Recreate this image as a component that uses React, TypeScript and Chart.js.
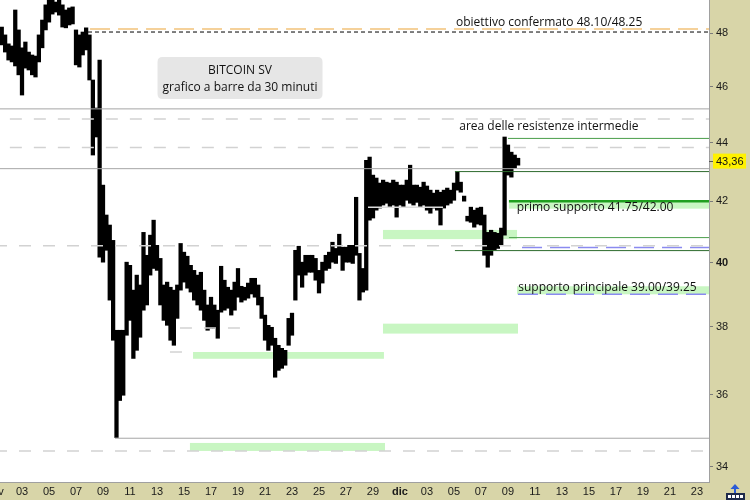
import React, { useEffect, useRef } from "react";
import { Chart, registerables } from "chart.js";

Chart.register(...registerables);

// ---------- axes ----------
const X_MIN = 0; // days since 1 Nov
const X_MAX = 52.89;
const Y_MIN = 33.59;
const Y_MAX = 49.29;

const xTickDays = [0, 2, 4, 6, 8, 10, 12, 14, 16, 18, 20, 22, 24, 26, 28, 30, 32, 34, 36, 38, 40, 42, 44, 46, 48, 50, 52];
const xTickLabels = ["nov", "03", "05", "07", "09", "11", "13", "15", "17", "19", "21", "23", "25", "27", "29", "dic", "03", "05", "07", "09", "11", "13", "15", "17", "19", "21", "23"];
const yTickValues = [34, 36, 38, 40, 42, 44, 46, 48];
const lastPrice = 43.36;
const lastPriceLabel = "43,36";

// ---------- price bars (6h high/low aggregation of 30-min bars) ----------
const barStartDay = 0.5;
const barStepDays = 0.25;
const barHigh = [
  48.24, 47.94, 47.6, 47.52, 48.9, 48.13, 47.45, 47.67, 47.29, 47.18,
  47.14, 47.94, 48.51, 49.1, 49.35, 49.35, 49.21, 49.35, 49.1, 48.9,
  48.98, 49.02, 48.13, 47.94, 48.05, 48.21, 47.94, 46.25, 45.23, 46.99,
  42.54, 41.54, 41.21, 40.71, 37.9, 37.9, 37.9, 40.01, 39.91, 39.13,
  39.6, 39.29, 40.97, 40.23, 40.88, 41.37, 40.55, 40.13, 39.29, 39.38,
  39.22, 39.13, 39.29, 40.61, 40.33, 40.2, 39.91, 39.75, 39.6, 39.69,
  39.13, 38.67, 38.91, 38.67, 38.51, 39.88, 39.44, 39.22, 39.13, 39.38,
  39.81, 39.25, 39.22, 39.35, 39.5, 39.5, 39.29, 38.91, 38.36, 38.05,
  37.99, 37.66, 37.45, 37.36, 37.3, 38.26, 38.42, 40.39, 40.52, 40.01,
  40.23, 40.23, 40.23, 40.13, 39.75, 40.01, 40.23, 40.33, 40.65, 40.45,
  40.91, 40.49, 40.49, 40.55, 40.55, 42.13, 40.29, 39.81, 43.39, 43.5,
  42.88, 42.78, 42.61, 42.71, 42.64, 42.61, 42.71, 42.64, 42.54, 42.54,
  42.71, 43.22, 42.54, 42.54, 42.47, 42.64, 42.51, 42.37, 42.27, 42.37,
  42.3, 42.37, 42.44, 42.37, 42.61, 42.98, 42.64, 42.17, 41.5, 41.8,
  41.7, 41.77, 41.8, 41.54, 40.97, 41.04, 40.97, 40.94, 41.11, 44.2,
  43.92, 43.67, 43.57, 43.46,
];
const barLow = [
  47.56, 47.29, 46.99, 46.92, 46.77, 46.44, 45.7, 46.69, 46.62, 46.44,
  46.36, 46.92, 47.45, 48.13, 48.43, 48.74, 48.82, 48.7, 48.24, 48.21,
  48.32, 48.36, 46.81, 46.73, 47.18, 47.37, 46.25, 43.57, 44.2, 40.17,
  40.01, 40.39, 38.82, 37.6, 34.8, 35.84, 35.99, 37.75, 38.2, 37.06,
  37.3, 37.69, 38.51, 38.67, 39.6, 39.81, 39.75, 38.67, 38.2, 38.05,
  37.6, 37.45, 38.26, 39.13, 39.38, 39.19, 39.07, 38.82, 38.67, 38.51,
  38.2, 37.9, 37.96, 37.96, 37.66, 38.45, 38.51, 38.57, 38.36, 38.51,
  38.91, 38.76, 38.82, 38.88, 39.01, 38.91, 38.67, 38.26, 37.6, 37.3,
  37.45, 36.51, 36.71, 36.77, 36.86, 37.45, 37.75, 38.82, 39.6, 39.22,
  39.6, 39.69, 39.69, 39.44, 39.04, 39.35, 39.75, 39.81, 40.01, 39.97,
  40.23, 39.75, 40.01, 40.01, 39.97, 40.23, 38.82, 39.07, 39.13, 41.37,
  41.44, 41.7, 41.77, 41.87, 41.93, 41.8, 41.87, 41.47, 41.87, 41.8,
  42.03, 41.93, 41.87, 41.96, 41.8, 41.87, 41.7, 41.6, 41.77, 41.7,
  41.21, 41.77, 41.87, 41.93, 42.03, 42.37, 42.3, 42.0, 41.34, 41.3,
  41.14, 41.24, 41.21, 40.23, 39.85, 40.23, 40.39, 40.45, 40.55, 40.88,
  42.88, 42.81, 43.12, 43.22,
];

// ---------- horizontal levels ----------
const levelPrice = [48.17, 48.05, 45.2, 44.84, 43.83, 43.1, 44.15, 42.0, 43.0, 40.8, 40.54, 40.48, 40.38, 39.0, 37.97, 37.25, 34.78, 34.43, 41.8];
const levelFrom = [7.04, 6.89, 0, 1.1, 1.1, 0, 38.0, 38.07, 34.07, 38.07, 0, 39.04, 34.07, 38.74, 13.7, 12.96, 8.89, 0, 27.63];
const levelTo = [X_MAX, X_MAX, X_MAX, X_MAX, X_MAX, X_MAX, X_MAX, X_MAX, X_MAX, X_MAX, X_MAX, X_MAX, X_MAX, X_MAX, 18.67, 14.67, X_MAX, X_MAX, 33.19];
const levelKind = ["orange", "blackDash", "gray", "lightDash", "lightDash", "gray", "green", "greenThick", "darkGreen", "green", "lightDash", "blueDash", "darkGreen", "blueDash", "lightDash", "lightDash", "gray", "lightDash", "lightSolid"];

// ---------- zones ----------
const bandLow = [41.75, 40.75, 39.0, 37.8, 37.05, 34.43];
const bandHigh = [41.97, 41.05, 39.25, 38.1, 37.25, 34.65];
const bandFrom = [38.07, 28.74, 38.67, 28.74, 14.67, 14.44];
const bandTo = [X_MAX, 38.67, X_MAX, 38.74, 28.81, 28.89];

// ---------- notes ----------
const noteText = ["obiettivo confermato 48.10/48.25", "area delle resistenze intermedie", "primo supporto 41.75/42.00", "supporto principale 39.00/39.25"];
const noteDay = [34.15, 34.39, 38.64, 38.76];
const notePrice = [48.43, 44.58, 41.77, 39.22];
const titleLines = ["BITCOIN SV", "grafico a barre da 30 minuti"];
const titleDay = 18.15;
const titlePrice = 46.32;

// ---------- styles ----------
const KHAKI = "#d8d5a8";
const levelStyles: Record<string, { color: string; width: number; dash: number[] }> = {
  orange: { color: "#f2c27a", width: 1.5, dash: [20, 8] },
  blackDash: { color: "#000000", width: 1, dash: [4, 3] },
  gray: { color: "#a6a6a6", width: 1, dash: [] },
  lightDash: { color: "#d2d2d2", width: 1.5, dash: [12, 12] },
  green: { color: "#4a9e4a", width: 1, dash: [] },
  greenThick: { color: "#1f9f1f", width: 2.5, dash: [] },
  darkGreen: { color: "#2d6a2d", width: 1, dash: [] },
  blueDash: { color: "#8a8af0", width: 1.5, dash: [20, 8] },
  lightSolid: { color: "#dcdcdc", width: 1.5, dash: [] },
};
const TEXT_FONT = '12px "Open Sans"';
const TICK_FAMILY = '"Liberation Sans", Arial, sans-serif';

const decorPlugin = {
  id: "decor",
  beforeDraw(chart: any) {
    const { ctx, chartArea, width, height } = chart;
    ctx.save();
    ctx.fillStyle = KHAKI;
    ctx.fillRect(0, 0, width, height);
    ctx.fillStyle = "#ffffff";
    ctx.fillRect(chartArea.left, chartArea.top, chartArea.right - chartArea.left, chartArea.bottom - chartArea.top);
    ctx.restore();
  },
  beforeDatasetsDraw(chart: any) {
    const { ctx, chartArea } = chart;
    const xs = chart.scales.x;
    const ys = chart.scales.y;
    ctx.save();
    ctx.beginPath();
    ctx.rect(chartArea.left, chartArea.top, chartArea.right - chartArea.left, chartArea.bottom - chartArea.top);
    ctx.clip();
    ctx.fillStyle = "#c8f6c2";
    for (let i = 0; i < bandLow.length; i++) {
      const x1 = xs.getPixelForValue(bandFrom[i]);
      const x2 = xs.getPixelForValue(bandTo[i]);
      const y1 = ys.getPixelForValue(bandHigh[i]);
      const y2 = ys.getPixelForValue(bandLow[i]);
      ctx.fillRect(x1, y1, x2 - x1, y2 - y1);
    }
    ctx.restore();
  },
  afterDatasetsDraw(chart: any) {
    const { ctx } = chart;
    const xs = chart.scales.x;
    const ys = chart.scales.y;
    ctx.save();
    ctx.font = TEXT_FONT;
    ctx.fillStyle = "#111111";
    ctx.textBaseline = "middle";
    ctx.textAlign = "left";
    for (let i = 0; i < noteText.length; i++) {
      ctx.fillText(noteText[i], xs.getPixelForValue(noteDay[i]), ys.getPixelForValue(notePrice[i]));
    }
    const cx = xs.getPixelForValue(titleDay);
    const cy = ys.getPixelForValue(titlePrice);
    const bw = 165, bh = 42, r = 5;
    const bx = cx - bw / 2, by = cy - bh / 2;
    ctx.fillStyle = "#e6e6e6";
    ctx.beginPath();
    ctx.moveTo(bx + r, by);
    ctx.lineTo(bx + bw - r, by);
    ctx.quadraticCurveTo(bx + bw, by, bx + bw, by + r);
    ctx.lineTo(bx + bw, by + bh - r);
    ctx.quadraticCurveTo(bx + bw, by + bh, bx + bw - r, by + bh);
    ctx.lineTo(bx + r, by + bh);
    ctx.quadraticCurveTo(bx, by + bh, bx, by + bh - r);
    ctx.lineTo(bx, by + r);
    ctx.quadraticCurveTo(bx, by, bx + r, by);
    ctx.closePath();
    ctx.fill();
    ctx.fillStyle = "#111111";
    ctx.textAlign = "center";
    ctx.fillText(titleLines[0], cx, cy - 8);
    ctx.fillText(titleLines[1], cx, cy + 9);
    ctx.restore();
  },
  afterDraw(chart: any) {
    const { ctx } = chart;
    const ys = chart.scales.y;
    const y = ys.getPixelForValue(lastPrice);
    const left = ys.left;
    ctx.save();
    ctx.strokeStyle = "#555555";
    ctx.lineWidth = 1;
    ctx.beginPath();
    ctx.moveTo(left, Math.round(y) + 0.5);
    ctx.lineTo(left + 4, Math.round(y) + 0.5);
    ctx.stroke();
    ctx.fillStyle = "#fff200";
    ctx.fillRect(left + 4, y - 7.5, 33, 15);
    ctx.fillStyle = "#111111";
    ctx.font = "11px " + TICK_FAMILY;
    ctx.textAlign = "left";
    ctx.textBaseline = "middle";
    ctx.fillText(lastPriceLabel, left + 7, y + 0.5);
    // small toolbar icon in the corner
    const ox = chart.width - 24;
    const oy = chart.height - 16;
    ctx.fillStyle = "#2a5bd7";
    ctx.beginPath();
    ctx.moveTo(ox + 9, oy);
    ctx.lineTo(ox + 13.5, oy + 5);
    ctx.lineTo(ox + 4.5, oy + 5);
    ctx.closePath();
    ctx.fill();
    ctx.fillRect(ox + 8, oy + 5, 2, 4);
    ctx.fillStyle = "#1e2a4a";
    ctx.fillRect(ox, oy + 9, 19, 7);
    ctx.fillStyle = "#ffffff";
    for (let i = 0; i < 4; i++) ctx.fillRect(ox + 2 + i * 4, oy + 11, 3, 3);
    ctx.restore();
  },
};

export default function App() {
  const canvasRef = useRef<HTMLCanvasElement | null>(null);

  useEffect(() => {
    if (!canvasRef.current) return;
    const barData = barHigh.map((h, i) => ({ x: barStartDay + barStepDays * i, y: [barLow[i], h] }));
    const lineSets = levelPrice.map((p, i) => {
      const st = levelStyles[levelKind[i]];
      return {
        type: "line" as const,
        data: [
          { x: levelFrom[i], y: p },
          { x: levelTo[i], y: p },
        ],
        borderColor: st.color,
        borderWidth: st.width,
        borderDash: st.dash,
        pointRadius: 0,
        fill: false,
        tension: 0,
        order: 1,
      };
    });

    const chart = new Chart(canvasRef.current, {
      type: "bar",
      data: {
        datasets: [
          {
            type: "bar",
            data: barData as any,
            backgroundColor: "#000000",
            borderWidth: 0,
            barThickness: 3.6,
            grouped: false,
            order: 10,
          } as any,
          ...(lineSets as any[]),
        ],
      },
      options: {
        responsive: false,
        maintainAspectRatio: false,
        animation: false,
        devicePixelRatio: 1,
        events: [],
        layout: { padding: 0 },
        plugins: { legend: { display: false }, tooltip: { enabled: false } },
        scales: {
          x: {
            type: "linear",
            position: "bottom",
            min: X_MIN,
            max: X_MAX,
            offset: false,
            grid: { display: false, drawTicks: false, tickLength: 0 },
            border: { display: true, color: "#a0a0a0" },
            afterBuildTicks: (s: any) => {
              s.ticks = xTickDays.map((v) => ({ value: v }));
            },
            afterFit: (s: any) => {
              s.height = 18;
              s.paddingLeft = 0;
              s.paddingRight = 0;
            },
            ticks: {
              autoSkip: false,
              maxRotation: 0,
              minRotation: 0,
              padding: 3,
              color: "#1a1a1a",
              font: (c: any) => ({ family: TICK_FAMILY, size: 11, weight: c.tick && c.tick.value === 30 ? "bold" : "normal" }),
              callback: (v: any) => {
                const idx = xTickDays.indexOf(Number(v));
                return idx >= 0 ? xTickLabels[idx] : "";
              },
            },
          },
          y: {
            type: "logarithmic",
            position: "right",
            min: Y_MIN,
            max: Y_MAX,
            grid: { display: true, drawOnChartArea: false, drawTicks: true, tickLength: 4, color: "#7a7a7a" },
            border: { display: true, color: "#a0a0a0" },
            afterBuildTicks: (s: any) => {
              s.ticks = yTickValues.map((v) => ({ value: v }));
            },
            afterFit: (s: any) => {
              s.width = 41;
              s.paddingTop = 0;
              s.paddingBottom = 0;
            },
            ticks: {
              autoSkip: false,
              padding: 3,
              color: "#1a1a1a",
              font: (c: any) => ({ family: TICK_FAMILY, size: 11, weight: c.tick && c.tick.value === 40 ? "bold" : "normal" }),
              callback: (v: any) => String(v),
            },
          },
        },
      } as any,
      plugins: [decorPlugin as any],
    });
    return () => chart.destroy();
  }, []);

  return (
    <div style={{ position: "absolute", left: 0, top: 0, width: 750, height: 500, overflow: "hidden", background: KHAKI }}>
      <canvas ref={canvasRef} width={755} height={500} style={{ position: "absolute", left: -5, top: 0, width: 755, height: 500 }} />
    </div>
  );
}
